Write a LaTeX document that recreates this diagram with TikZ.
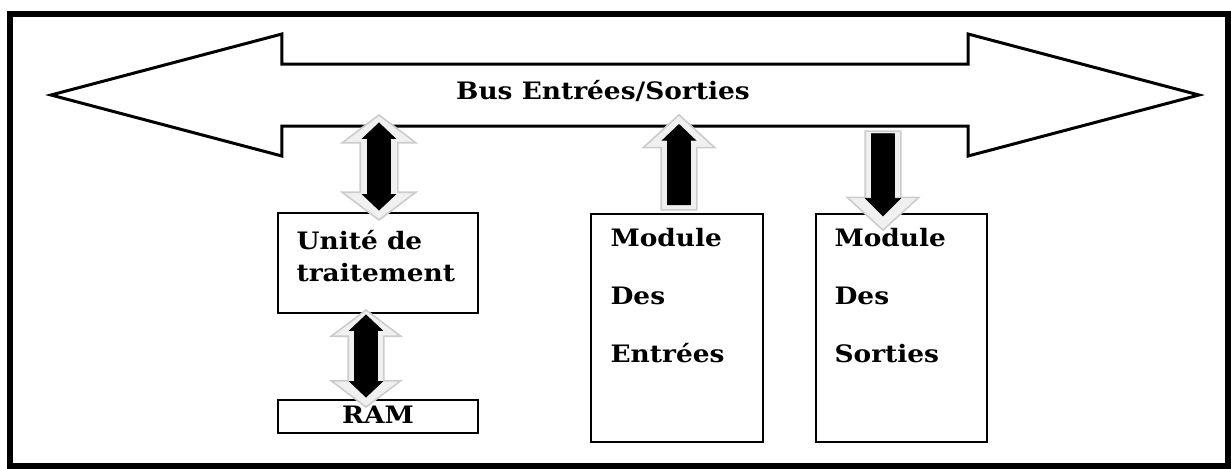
\documentclass[tikz,border=0pt]{standalone}
\usepackage{fontspec}
\setmainfont{DejaVu Serif}[FakeStretch=1.1]
\usetikzlibrary{shapes.arrows,calc}
\tikzset{
  bloc/.style={draw, line width=0.8pt, inner sep=0pt},
  txt/.style={font=\bfseries\fontsize{12}{14}\selectfont, inner sep=0pt},
  flgris/.style={fill=gray!12, draw=gray!40, line width=0.8pt, inner xsep=0pt},
  flnoir/.style={fill=black, draw=black, line width=0.4pt, inner xsep=0pt, inner ysep=5.5pt},
}
\begin{document}
\begin{tikzpicture}[x=0.5pt, y=-0.5pt, line join=miter]
	\useasboundingbox (0,0) rectangle (1231,468);
	\draw[line width=3pt] (10,13.5) rectangle (1228,466);
	% bus
	\node[double arrow, draw, line width=1.5pt, fill=white, inner xsep=0pt, inner ysep=14.75pt, minimum height=574pt, minimum width=59.5pt, double arrow head extend=15pt, double arrow tip angle=29.6] (bus) at (625,95) {};
	\node[txt, anchor=base] (bustxt) at (603,99) {Bus Entrées/Sorties};
	% blocs
	\node[bloc, minimum width=100pt, minimum height=50pt] (ut) at (378,263) {};
	\node[bloc, minimum width=100pt, minimum height=16.5pt] (ram) at (378,416.5) {};
	\node[bloc, minimum width=86pt, minimum height=114pt] (me) at (677,328) {};
	\node[bloc, minimum width=85.5pt, minimum height=114pt] (ms) at (901.5,328) {};
	\node[txt, anchor=base west] (ut1) at ($(ut.north west)+(19,37)$) {Unité de};
	\node[txt, anchor=base west] (ut2) at ($(ut.north west)+(19,69)$) {traitement};
	\node[txt, anchor=base] (ramtxt) at ($(ram.south)+(0,-10)$) {RAM};
	\node[txt, anchor=base west] (me1) at ($(me.north west)+(20,33)$) {Module};
	\node[txt, anchor=base west] (me2) at ($(me.north west)+(20,91)$) {Des};
	\node[txt, anchor=base west] (me3) at ($(me.north west)+(20,149)$) {Entrées};
	\node[txt, anchor=base west] (ms1) at ($(ms.north west)+(19,33)$) {Module};
	\node[txt, anchor=base west] (ms2) at ($(ms.north west)+(19,91)$) {Des};
	\node[txt, anchor=base west] (ms3) at ($(ms.north west)+(19,149)$) {Sorties};
	% fleches
	\node[flgris, double arrow, rotate=90, inner ysep=9pt, minimum height=52.5pt, minimum width=36pt, double arrow head extend=9pt, double arrow tip angle=106] (f1) at (379,167.5) {};
	\node[flnoir, double arrow, rotate=90, minimum height=43.5pt, minimum width=16pt, double arrow head extend=2.5pt, double arrow tip angle=93] (g1) at (379,166.5) {};
	\node[flgris, double arrow, rotate=90, inner ysep=8.5pt, minimum height=48.5pt, minimum width=34pt, double arrow head extend=8.5pt, double arrow tip angle=106] (f2) at (366,358.5) {};
	\node[flnoir, double arrow, rotate=90, minimum height=41pt, minimum width=16pt, double arrow head extend=2.5pt, double arrow tip angle=93] (g2) at (366,356) {};
	\node[flgris, single arrow, rotate=90, inner ysep=8.5pt, minimum height=47.5pt, minimum width=35pt, single arrow head extend=9pt, single arrow tip angle=95] (f3) at (679,170.5) {};
	\node[flnoir, single arrow, rotate=90, minimum height=40pt, minimum width=16pt, single arrow head extend=2.5pt, single arrow tip angle=93] (g3) at (679,170) {};
	\node[flgris, single arrow, rotate=-90, inner ysep=8.5pt, minimum height=49.5pt, minimum width=35pt, single arrow head extend=9pt, single arrow tip angle=95] (f4) at (883,172.5) {};
	\node[flnoir, single arrow, rotate=-90, minimum height=41pt, minimum width=17pt, single arrow head extend=3pt, single arrow tip angle=90] (g4) at (883,169) {};
\end{tikzpicture}
\end{document}
